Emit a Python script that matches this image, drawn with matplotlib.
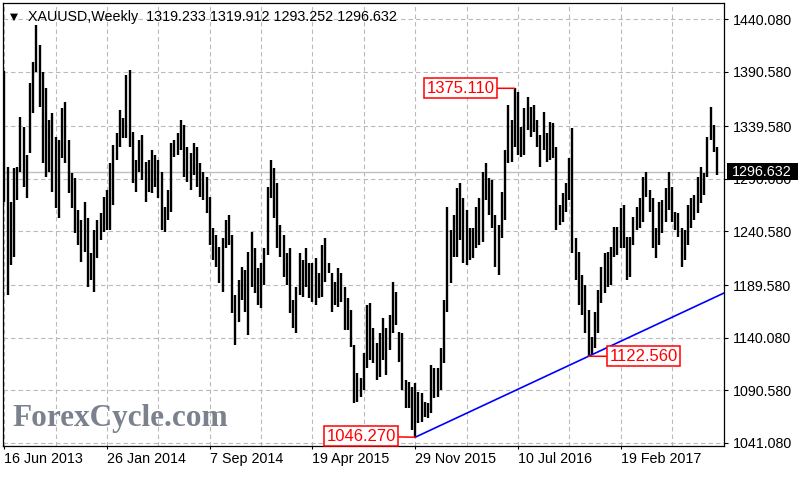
import matplotlib
matplotlib.use('Agg')
import matplotlib.pyplot as plt
from matplotlib.transforms import blended_transform_factory
from matplotlib.patches import Rectangle

# Chart header.
symbol = 'XAUUSD,Weekly'
lastOhlc = [1319.233, 1319.912, 1293.252, 1296.632]

# Weekly highs and lows, one per bar (first bar = week of 16 Jun 2013).
highs = [
  1391.7, 1301.2, 1268.2, 1299.7, 1301.2, 1348.3, 1338.9, 1312.2, 1379.8, 1400.1,
  1434.7, 1415.9, 1390.7, 1375.1, 1345.2, 1351.5, 1329.5, 1326.4, 1356.2, 1362.5,
  1326.4, 1295.0, 1290.3, 1260.4, 1251.0, 1268.2, 1252.6, 1219.6, 1241.5, 1251.0,
  1257.3, 1272.9, 1279.2, 1304.4, 1321.6, 1332.7, 1354.6, 1346.8, 1387.6, 1392.3,
  1334.2, 1307.5, 1326.4, 1331.1, 1306.0, 1307.5, 1316.9, 1312.2, 1307.5, 1296.5,
  1263.5, 1279.2, 1323.2, 1326.4, 1332.7, 1345.2, 1340.5, 1320.1, 1313.8, 1323.2,
  1320.1, 1304.4, 1296.5, 1291.8, 1273.0, 1243.1, 1236.8, 1225.9, 1233.7, 1251.0,
  1255.7, 1236.8, 1180.3, 1194.4, 1207.0, 1203.9, 1221.1, 1240.0, 1224.3, 1205.4,
  1210.2, 1224.3, 1282.4, 1307.5, 1299.7, 1285.5, 1246.3, 1236.8, 1219.6, 1224.3,
  1175.6, 1188.2, 1219.6, 1213.3, 1224.3, 1210.2, 1210.2, 1214.9, 1200.7, 1227.4,
  1233.7, 1210.2, 1200.7, 1192.9, 1205.4, 1200.7, 1188.2, 1177.2, 1166.2, 1133.2,
  1106.5, 1101.8, 1125.3, 1170.9, 1172.5, 1148.9, 1134.8, 1144.2, 1158.3, 1148.9,
  1161.5, 1192.9, 1183.5, 1145.8, 1144.2, 1100.2, 1098.7, 1093.9, 1097.1, 1089.2,
  1087.7, 1079.8, 1078.2, 1114.4, 1111.2, 1111.2, 1130.0, 1175.6, 1263.5, 1241.5,
  1255.7, 1280.8, 1285.5, 1271.4, 1260.4, 1243.1, 1243.1, 1263.5, 1271.4, 1296.0,
  1304.4, 1290.3, 1288.7, 1255.7, 1246.3, 1277.7, 1317.0, 1359.4, 1345.2, 1375.1,
  1371.9, 1339.0, 1356.2, 1367.2, 1357.8, 1359.4, 1345.2, 1331.1, 1353.1, 1332.7,
  1343.6, 1342.1, 1320.1, 1265.1, 1276.1, 1285.5, 1309.1, 1337.4, 1233.7, 1221.1,
  1199.2, 1189.7, 1166.2, 1141.1, 1164.6, 1185.0, 1207.0, 1219.6, 1221.1, 1225.9,
  1244.7, 1244.7, 1262.0, 1265.1, 1235.3, 1235.3, 1254.0, 1263.5, 1271.4, 1291.8,
  1296.5, 1279.2, 1271.4, 1243.1, 1268.3, 1269.8, 1280.8, 1296.5, 1282.4, 1258.8,
  1257.3, 1243.1, 1241.5, 1265.1, 1271.4, 1274.5, 1291.8, 1301.2, 1295.0, 1329.5,
  1357.8, 1340.5, 1319.912]
lows = [
  1268.2, 1180.3, 1208.5, 1216.4, 1269.8, 1296.5, 1282.4, 1271.4, 1313.8, 1351.5,
  1390.7, 1357.7, 1304.4, 1291.8, 1296.5, 1277.6, 1262.0, 1252.6, 1309.1, 1304.4,
  1276.1, 1262.0, 1238.4, 1227.4, 1211.7, 1221.1, 1188.1, 1194.4, 1183.4, 1214.9,
  1232.1, 1239.9, 1241.5, 1241.5, 1265.1, 1307.5, 1320.1, 1327.9, 1327.9, 1320.1,
  1285.5, 1277.7, 1296.5, 1288.7, 1268.3, 1277.7, 1276.1, 1282.4, 1271.4, 1241.5,
  1240.0, 1251.0, 1258.8, 1310.7, 1312.2, 1316.9, 1291.8, 1287.1, 1279.2, 1293.4,
  1282.4, 1273.0, 1269.8, 1257.3, 1227.4, 1213.3, 1207.0, 1191.3, 1183.4, 1224.3,
  1227.4, 1163.0, 1133.2, 1155.2, 1175.6, 1164.6, 1142.6, 1188.2, 1181.9, 1170.9,
  1167.8, 1189.7, 1218.0, 1271.4, 1252.6, 1224.3, 1216.4, 1197.6, 1189.7, 1163.0,
  1148.9, 1144.2, 1180.3, 1178.8, 1188.2, 1177.2, 1174.1, 1170.9, 1177.2, 1178.8,
  1192.9, 1200.7, 1164.6, 1170.9, 1169.3, 1174.1, 1147.3, 1147.3, 1131.6, 1078.2,
  1079.8, 1084.5, 1090.8, 1111.2, 1119.1, 1115.9, 1100.2, 1103.4, 1119.1, 1104.9,
  1128.5, 1144.2, 1152.1, 1117.5, 1090.8, 1073.5, 1073.5, 1053.1, 1046.27, 1059.4,
  1060.9, 1065.7, 1064.1, 1068.8, 1082.9, 1084.5, 1090.8, 1115.9, 1164.6, 1191.3,
  1216.4, 1216.4, 1232.1, 1210.2, 1208.6, 1213.3, 1214.9, 1224.3, 1227.4, 1230.0,
  1269.8, 1255.7, 1243.1, 1207.0, 1199.2, 1233.7, 1251.0, 1304.4, 1306.0, 1320.1,
  1312.2, 1310.7, 1312.2, 1335.8, 1329.5, 1334.2, 1320.1, 1301.3, 1316.9, 1306.0,
  1307.5, 1309.1, 1241.5, 1246.3, 1249.4, 1258.8, 1269.8, 1219.6, 1194.5, 1170.9,
  1161.5, 1144.2, 1122.56, 1123.8, 1130.0, 1144.2, 1172.5, 1181.9, 1188.2, 1189.7,
  1216.4, 1218.0, 1224.3, 1224.3, 1194.5, 1197.6, 1227.4, 1241.5, 1243.1, 1249.4,
  1273.0, 1258.8, 1224.3, 1214.9, 1227.4, 1238.4, 1249.4, 1260.4, 1249.4, 1241.5,
  1235.3, 1207.0, 1213.3, 1227.4, 1243.1, 1251.0, 1257.3, 1266.7, 1274.5, 1291.8,
  1326.4, 1315.4, 1293.252]

# Date labels on the time axis (bar index, text).
dateBars = [0, 32, 64, 96, 128, 160, 192]
dateLabels = ['16 Jun 2013', '26 Jan 2014', '7 Sep 2014', '19 Apr 2015',
              '29 Nov 2015', '10 Jul 2016', '19 Feb 2017']

# Price scale labels.
priceTicks = [1041.080, 1090.580, 1140.080, 1189.580, 1240.580, 1290.080,
              1339.580, 1390.580, 1440.080]

# Marked swing points (bar index, price).
swingLowA = (128, 1046.270)
swingHigh = (159, 1375.110)
swingLowB = (182, 1122.560)

# Chart settings.
gridColor = '#BABABA'
barColor = 'black'
markColor = '#FF0000'
trendColor = '#0000FF'

plt.rcParams['font.family'] = ['Liberation Sans', 'DejaVu Sans']
plt.rcParams['lines.scale_dashes'] = False

fig = plt.figure(figsize=(8, 4.8), dpi=100, facecolor='white')
ax = fig.add_axes([3 / 800, 34 / 480, 721 / 800, 443 / 480])
ax.set_xlim(-0.42, 224.2)
ax.set_ylim(1038.0, 1455.5)
ax.set_axisbelow(True)

# Grid: dashed lines on price levels and every 16 bars.
ax.set_yticks(priceTicks)
ax.set_yticklabels(['%.3f' % v for v in priceTicks])
ax.set_xticks(dateBars)
ax.set_xticklabels(dateLabels, ha='left')
ax.set_xticks(range(16, 224, 32), minor=True)
ax.grid(True, which='both', color=gridColor, lw=0.8, linestyle=(0, (3.2, 2.2)))

ax.yaxis.tick_right()
ax.tick_params(axis='y', which='major', direction='out', length=3, width=0.8,
               pad=3.5, labelsize=10.3, colors='black')
ax.tick_params(axis='x', which='major', direction='out', length=2, width=0.8,
               pad=2.5, labelsize=10.3, colors='black')
ax.tick_params(axis='x', which='minor', length=0)
for s in ax.spines.values():
  s.set_color('black')
  s.set_linewidth(0.9)

# Last price line.
close = lastOhlc[3]
ax.axhline(close, color='#C0C0C0', lw=1.0, zorder=1)

# Price bars (high - low).
idx = range(len(highs))
ax.vlines(idx, lows, highs, colors=barColor, linewidth=1.7, zorder=3)

# Trend line from the first swing low through the second, as a ray.
slope = (swingLowB[1] - swingLowA[1]) / (swingLowB[0] - swingLowA[0])
xEnd = ax.get_xlim()[1]
ax.plot([swingLowA[0], xEnd], [swingLowA[1], swingLowA[1] + slope * (xEnd - swingLowA[0])],
        color=trendColor, lw=1.2, zorder=4)

# Swing point labels.
for pt, off in [(swingHigh, (-54, 0)), (swingLowA, (-54, 1)), (swingLowB, (55, 0))]:
  ax.annotate('%.3f' % pt[1], xy=pt, xytext=off, textcoords='offset pixels',
              ha='center', va='center', color=markColor, fontsize=12,
              bbox=dict(boxstyle='square,pad=0.15', fc='white', ec=markColor, lw=1.1),
              arrowprops=dict(arrowstyle='-', color=markColor, lw=1.1,
                              shrinkA=0, shrinkB=0),
              annotation_clip=False, zorder=6)

# Last price box on the price scale (covers the 1290.080 label, as in MT4).
trans = blended_transform_factory(fig.transFigure, ax.transData)
ax.add_artist(Rectangle((727 / 800, close - 8.0), 71 / 800, 16.0, transform=trans,
                        fc='black', ec='none', clip_on=False, zorder=10))
ax.text(732 / 800, close, '%.3f' % close, transform=trans, color='white',
        ha='left', va='center', fontsize=10.3, clip_on=False, zorder=11)

# Header.
fig.text(10 / 800, 1 - 17 / 480, '\u25bc', fontsize=7.5, va='center', ha='left',
         color='black', family=['DejaVu Sans'])
fig.text(28 / 800, 1 - 17 / 480,
         symbol + '  ' + ' '.join('%.3f' % v for v in lastOhlc),
         fontsize=10.3, va='center', ha='left', color='black')

# Watermark.
ax.text(0.0125, 0.045, 'ForexCycle.com', transform=ax.transAxes,
        family=['Liberation Serif'], fontweight='bold', fontsize=22.5,
        color='#7b828d', va='baseline', ha='left', zorder=2)

fig.savefig('out.png', dpi=100, facecolor=fig.get_facecolor())
